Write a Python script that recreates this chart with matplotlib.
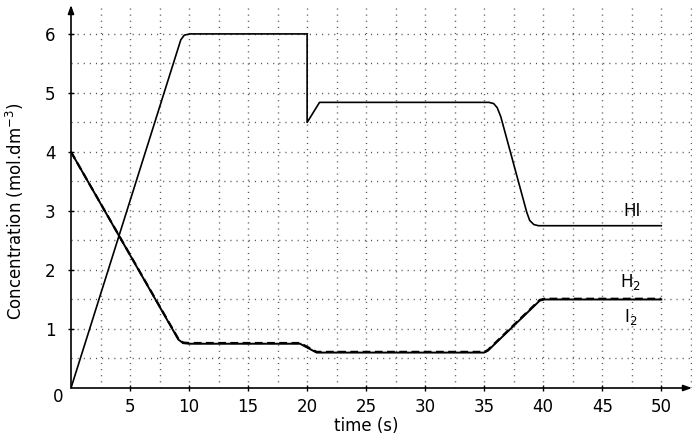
import numpy as np
import matplotlib
matplotlib.use("Agg")
import matplotlib.pyplot as plt

plt.rcParams['font.family'] = ['DejaVu Sans']
plt.rcParams['mathtext.fontset'] = 'dejavusans'

# ---- data ----
hi_t = [0, 9.3, 9.6, 10.1, 20, 20, 21.05, 35.4, 35.8, 36.1, 36.4, 38.6, 38.85, 39.2, 39.6, 50]
hi_c = [0, 5.90, 5.98, 6.0, 6.0, 4.5, 4.84, 4.84, 4.82, 4.75, 4.60, 2.98, 2.84, 2.77, 2.75, 2.75]

i2_t = [0, 9.1, 9.5, 10.0, 19.4, 20.8, 35.0, 35.3, 39.7, 40.1, 50]
i2_c = [4.0, 0.82, 0.76, 0.75, 0.75, 0.60, 0.60, 0.63, 1.48, 1.50, 1.50]

h2_t = i2_t
h2_c = [4.0, 0.83, 0.77, 0.762, 0.762, 0.612, 0.612, 0.642, 1.492, 1.512, 1.512]

x_ticks = [5, 10, 15, 20, 25, 30, 35, 40, 45, 50]
y_ticks = [1, 2, 3, 4, 5, 6]

labels = {'HI': (47.5, 3.0), 'H$_2$': (47.4, 1.80), 'I$_2$': (47.4, 1.20)}

# ---- figure ----
fig = plt.figure(figsize=(6.94, 4.40), dpi=100)
ax = fig.add_axes([71/694, 1 - 388/440, 621/694, 383/440])

xmax, ymax = 52.6, 6.49
ax.set_xlim(0, xmax)
ax.set_ylim(0, ymax)

# dotted grid every 2.5 s and 0.5 units
for gx in np.arange(2.5, xmax, 2.5):
    ax.axvline(gx, color='#555555', lw=1.0, ls=(0, (0.8, 3.6)), zorder=0)
for gy in np.arange(0.5, ymax, 0.5):
    ax.axhline(gy, color='#555555', lw=1.0, ls=(0, (0.8, 3.6)), zorder=0)

ax.plot(hi_t, hi_c, color='black', lw=1.2, solid_joinstyle='round', zorder=3)
ax.plot(i2_t, i2_c, color='black', lw=1.4, solid_joinstyle='round', zorder=3)
ax.plot(h2_t, h2_c, color='black', lw=1.6, dashes=(3.5, 2.0), zorder=4)

for txt, (tx, ty) in labels.items():
    ax.text(tx, ty, txt, fontsize=12, ha='center', va='center')

# axes with arrows
for s in ax.spines.values():
    s.set_visible(False)
ax.annotate('', xy=(1.0, 0), xytext=(0, 0), xycoords='axes fraction',
            arrowprops=dict(arrowstyle='-|>,head_length=0.5,head_width=0.18',
                            color='black', lw=1.2, shrinkA=0, shrinkB=0))
ax.annotate('', xy=(0, 1.0), xytext=(0, 0), xycoords='axes fraction',
            arrowprops=dict(arrowstyle='-|>,head_length=0.5,head_width=0.18',
                            color='black', lw=1.2, shrinkA=0, shrinkB=0))

ax.set_xticks(x_ticks)
ax.set_yticks(y_ticks)
ax.tick_params(axis='both', direction='inout', length=4, width=1.0,
               labelsize=12, color='black')
ax.tick_params(axis='x', pad=5)
ax.tick_params(axis='y', pad=9)
ax.text(-0.021, -0.024, '0', transform=ax.transAxes, fontsize=12,
        ha='center', va='center')

ax.set_xlabel('time (s)', fontsize=12)
ax.xaxis.set_label_coords(25 / xmax, -0.075)
ax.set_ylabel('Concentration (mol.dm$^{-3}$)', fontsize=12)
ax.yaxis.set_label_coords(-0.072, 3 / ymax)

fig.savefig('out.png', dpi=100)
